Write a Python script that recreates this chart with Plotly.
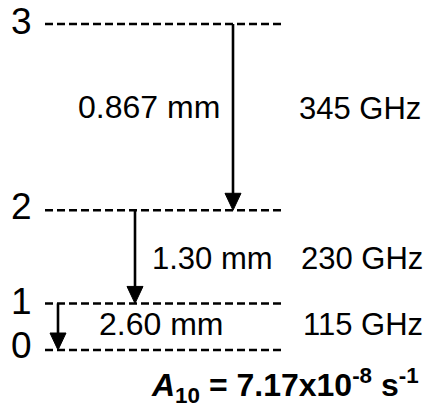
import plotly.graph_objects as go

# Rotational levels J and their schematic heights in the diagram
levels = [0, 1, 2, 3]
level_height = [0, 1, 3, 7]

# Downward transitions (upper -> lower)
upper = [3, 2, 1]
lower = [2, 1, 0]
wavelengths = ["0.867 mm", "1.30 mm", "2.60 mm"]
frequencies = ["345 GHz", "230 GHz", "115 GHz"]
einstein_a = "7.17x10<sup>-8</sup> s<sup>-1</sup>"

# Horizontal placement (pixel-like x units)
line_x0, line_x1 = 45, 285
arrow_x = [233, 135, 58]

# Vertical scale: one level unit ~ 46.6 px, level 0 at 350 px from top
unit = 326 / 7
def yv(px):
    return (350 - px) / unit

FONT = "Liberation Sans, Arial, sans-serif"

fig = go.Figure()

for j, h in zip(levels, level_height):
    fig.add_trace(go.Scatter(
        x=[line_x0, line_x1], y=[h, h], mode="lines",
        line=dict(color="black", width=2.4, dash="8px,4px"),
        showlegend=False, hoverinfo="skip"))

shapes = []
head_len = 17 / unit   # arrowhead length in level units
head_half = 8          # arrowhead half width in x units
for xa, u, l in zip(arrow_x, upper, lower):
    y_top = level_height[u]
    y_tip = level_height[l]
    shapes.append(dict(
        type="line", xref="x", yref="y",
        x0=xa, x1=xa, y0=y_top, y1=y_tip + head_len * 0.5,
        line=dict(color="black", width=2.6)))
    shapes.append(dict(
        type="path", xref="x", yref="y",
        path=f"M {xa - head_half},{y_tip + head_len} L {xa + head_half},{y_tip + head_len} L {xa},{y_tip} Z",
        fillcolor="black", line=dict(color="black", width=1)))

annotations = []

# Level numbers
label_px = [345, 301, 206, 21]
for j, py in zip(levels, label_px):
    annotations.append(dict(
        x=21, y=yv(py), text=str(j), showarrow=False,
        xanchor="center", yanchor="middle",
        font=dict(family=FONT, size=37, color="black")))

# Wavelength labels
wl_pos = [(222, 107, "right"), (150, 258, "left"), (97, 324, "left")]
wl_size = [32, 31, 32]
for (xp, py, anc), txt, sz in zip(wl_pos, wavelengths, wl_size):
    annotations.append(dict(
        x=xp, y=yv(py), text=txt, showarrow=False,
        xanchor=anc, yanchor="middle",
        font=dict(family=FONT, size=sz, color="black")))

# Frequency labels
fq_pos = [(297, 108), (299, 258), (301, 324)]
for (xp, py), txt in zip(fq_pos, frequencies):
    annotations.append(dict(
        x=xp, y=yv(py), text=txt, showarrow=False,
        xanchor="left", yanchor="middle",
        font=dict(family=FONT, size=31, color="black")))

# Einstein A coefficient
annotations.append(dict(
    x=421, y=yv(385),
    text="<b><i>A</i><sub>10</sub> = " + einstein_a + "</b>",
    showarrow=False, xanchor="right", yanchor="middle",
    font=dict(family=FONT, size=32, color="black")))

fig.update_layout(
    width=430, height=407,
    margin=dict(l=0, r=0, t=0, b=0),
    paper_bgcolor="white", plot_bgcolor="white",
    xaxis=dict(range=[0, 430], visible=False, fixedrange=True),
    yaxis=dict(range=[yv(407), yv(0)], visible=False, fixedrange=True),
    shapes=shapes,
    annotations=annotations,
    showlegend=False,
)

fig.write_html("out.html")
